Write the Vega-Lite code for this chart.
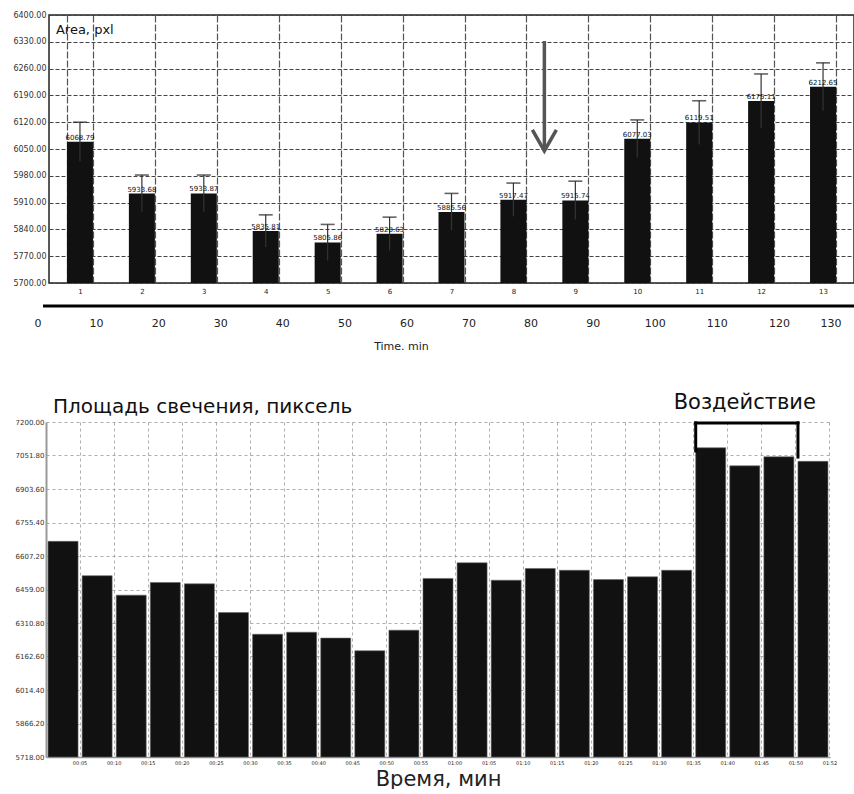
{
  "$schema": "https://vega.github.io/schema/vega-lite/v6.json",
  "padding": {"left": 12, "top": 10, "right": 0, "bottom": 0},
  "bounds": "flush",
  "spacing": 139,
  "config": {
    "font": "DejaVu Sans",
    "axis": {"labelColor": "#222", "titleColor": "#222", "labelOverlap": false}
  },
  "datasets": {
    "area": [
      {"cat": "1", "value": 6068.79, "lo": 6018, "hi": 6120},
      {"cat": "2", "value": 5933.68, "lo": 5886, "hi": 5982},
      {"cat": "3", "value": 5933.87, "lo": 5886, "hi": 5982},
      {"cat": "4", "value": 5835.81, "lo": 5794, "hi": 5878},
      {"cat": "5", "value": 5805.86, "lo": 5759, "hi": 5853},
      {"cat": "6", "value": 5828.63, "lo": 5785, "hi": 5872},
      {"cat": "7", "value": 5885.56, "lo": 5838, "hi": 5934},
      {"cat": "8", "value": 5917.47, "lo": 5874, "hi": 5961},
      {"cat": "9", "value": 5915.74, "lo": 5866, "hi": 5966},
      {"cat": "10", "value": 6077.03, "lo": 6028, "hi": 6126},
      {"cat": "11", "value": 6119.51, "lo": 6062, "hi": 6176},
      {"cat": "12", "value": 6175.11, "lo": 6104, "hi": 6246},
      {"cat": "13", "value": 6212.65, "lo": 6150, "hi": 6275}
    ],
    "glow": [
      {"t": "00:05", "v": 6672},
      {"t": "00:10", "v": 6520},
      {"t": "00:15", "v": 6434},
      {"t": "00:20", "v": 6490},
      {"t": "00:25", "v": 6484},
      {"t": "00:30", "v": 6357},
      {"t": "00:35", "v": 6261},
      {"t": "00:40", "v": 6270},
      {"t": "00:45", "v": 6244},
      {"t": "00:50", "v": 6188},
      {"t": "00:55", "v": 6279},
      {"t": "01:00", "v": 6508},
      {"t": "01:05", "v": 6577},
      {"t": "01:10", "v": 6500},
      {"t": "01:15", "v": 6552},
      {"t": "01:20", "v": 6544},
      {"t": "01:25", "v": 6503},
      {"t": "01:30", "v": 6515},
      {"t": "01:35", "v": 6544},
      {"t": "01:40", "v": 7086},
      {"t": "01:45", "v": 7006},
      {"t": "01:50", "v": 7046},
      {"t": "01:52", "v": 7026}
    ]
  },
  "vconcat": [
    {
      "width": 805,
      "height": 268,
      "view": {"stroke": "#222", "strokeWidth": 1.5},
      "resolve": {"scale": {"x": "independent"}},
      "layer": [
        {
          "data": {"name": "area"},
          "encoding": {
            "x": {
              "field": "cat", "type": "ordinal", "title": null,
              "scale": {"domain": ["1","2","3","4","5","6","7","8","9","10","11","12","13"], "paddingInner": 0.58, "paddingOuter": 0.29},
              "axis": {"orient": "bottom", "labelAngle": 0, "ticks": false, "domain": false, "labelFontSize": 7, "labelPadding": 4, "grid": true, "tickBand": "extent", "gridColor": "#555", "gridDash": [7, 2], "gridWidth": 1.2}
            }
          },
          "layer": [
            {
              "mark": {"type": "bar", "color": "#111"},
              "encoding": {
                "y": {"field": "value", "type": "quantitative", "title": null,
                  "scale": {"domain": [5700, 6400], "zero": false, "nice": false},
                  "axis": {"values": [5700, 5770, 5840, 5910, 5980, 6050, 6120, 6190, 6260, 6330, 6400], "tickCount": 30, "format": ".2f", "labelFontSize": 8, "labelColor": "#333", "ticks": false, "domain": false, "labelPadding": 3, "grid": true, "gridDash": [4, 2], "gridColor": "#444", "gridWidth": 1}
                },
                "y2": {"datum": 5700}
              }
            },
            {
              "mark": {"type": "rule", "color": "#333", "strokeWidth": 1.2},
              "encoding": {"y": {"field": "lo", "type": "quantitative", "title": null}, "y2": {"field": "hi"}}
            },
            {
              "mark": {"type": "tick", "color": "#222", "size": 14, "thickness": 1.6},
              "encoding": {"y": {"field": "hi", "type": "quantitative", "title": null}}
            },
            {
              "mark": {"type": "text", "fontSize": 7, "baseline": "bottom", "dy": -1, "color": "#111"},
              "encoding": {
                "y": {"field": "value", "type": "quantitative", "title": null},
                "text": {"field": "value", "type": "quantitative", "format": ".2f"}
              }
            },
            {
              "data": {"values": [{"k": 1}]},
              "mark": {"type": "rule", "color": "#555", "strokeWidth": 3.5},
              "encoding": {
                "x": {"datum": "9", "type": "ordinal", "bandPosition": -0.691},
                "y": {"datum": 6332, "type": "quantitative", "title": null},
                "y2": {"datum": 6046}
              }
            },
            {
              "data": {"values": [{"k": 1}]},
              "mark": {"type": "point", "shape": "M-1,-1.75L0,0L1,-1.75", "filled": false, "color": "#555", "strokeWidth": 3.5, "size": 576, "opacity": 1},
              "encoding": {
                "x": {"datum": "9", "type": "ordinal", "bandPosition": -0.691},
                "y": {"datum": 6045, "type": "quantitative", "title": null}
              }
            },
            {
              "data": {"values": [{"label": "Area, pxl"}]},
              "mark": {"type": "text", "align": "left", "baseline": "middle", "fontSize": 13, "dx": -11, "color": "#111"},
              "encoding": {
                "x": {"datum": "1", "type": "ordinal", "bandPosition": 0},
                "y": {"datum": 6361, "type": "quantitative", "title": null},
                "text": {"field": "label"}
              }
            }
          ]
        },
        {
          "data": {"values": [{"k": 1}]},
          "mark": {"type": "rule", "color": "#000", "strokeWidth": 3},
          "encoding": {
            "x": {
              "datum": 1.45, "type": "quantitative",
              "scale": {"domain": [0, 130], "range": [-15, 792], "nice": false},
              "axis": {"orient": "bottom", "offset": 23, "values": [0, 10, 20, 30, 40, 50, 60, 70, 80, 90, 100, 110, 120, 130], "tickCount": 30, "domain": false, "ticks": false, "grid": false, "labelFontSize": 11, "labelPadding": 11, "title": "Time. min", "titleFontSize": 11, "titleFontWeight": "normal", "titlePadding": 12, "titleX": 352}
            },
            "x2": {"datum": 132.3},
            "y": {"datum": 5640, "type": "quantitative", "title": null}
          }
        }
      ]
    },
    {
      "width": 806,
      "height": 335,
      "data": {"name": "glow"},
      "view": {"stroke": null},
      "encoding": {
        "x": {
          "field": "t", "type": "ordinal",
          "scale": {"domain": ["00:05","00:10","00:15","00:20","00:25","00:30","00:35","00:40","00:45","00:50","00:55","01:00","01:05","01:10","01:15","01:20","01:25","01:30","01:35","01:40","01:45","01:50","01:52"], "range": [-3, 781], "paddingInner": 0.12, "paddingOuter": 0.06},
          "axis": {"title": "Время, мин", "titleFontSize": 21, "titleFontWeight": "normal", "titlePadding": 3, "labelAngle": 0, "labelFontSize": 5, "labelPadding": 3, "labelOffset": 17, "ticks": false, "bandPosition": 1.068, "domainColor": "#999", "domainWidth": 1.5, "grid": true, "gridDash": [3, 3], "gridColor": "#999", "gridWidth": 0.8}
        }
      },
      "layer": [
        {
          "mark": {"type": "bar", "color": "#111", "stroke": "#666", "strokeWidth": 0.6},
          "encoding": {
            "y": {"field": "v", "type": "quantitative", "title": null,
              "scale": {"domain": [5718, 7200], "zero": false, "nice": false},
              "axis": {"values": [5718, 5866.2, 6014.4, 6162.6, 6310.8, 6459, 6607.2, 6755.4, 6903.6, 7051.8, 7200], "tickCount": 30, "format": ".2f", "labelFontSize": 7, "labelColor": "#333", "ticks": false, "domain": true, "domainColor": "#999", "domainWidth": 2, "offset": 3, "labelPadding": 2, "grid": true, "gridDash": [3, 3], "gridColor": "#999", "gridWidth": 0.8}
            },
            "y2": {"datum": 5718}
          }
        },
        {
          "data": {"values": [{"k": 1}]},
          "mark": {"type": "rule", "color": "#000", "strokeWidth": 3, "strokeCap": "square"},
          "encoding": {
            "x": {"datum": "01:40", "type": "ordinal", "bandPosition": 0},
            "y": {"datum": 7072, "type": "quantitative", "title": null},
            "y2": {"datum": 7196}
          }
        },
        {
          "data": {"values": [{"k": 1}]},
          "mark": {"type": "rule", "color": "#000", "strokeWidth": 3, "strokeCap": "square"},
          "encoding": {
            "x": {"datum": "01:52", "type": "ordinal", "bandPosition": 0},
            "y": {"datum": 7045, "type": "quantitative", "title": null},
            "y2": {"datum": 7196}
          }
        },
        {
          "data": {"values": [{"k": 1}]},
          "mark": {"type": "rule", "color": "#000", "strokeWidth": 3, "strokeCap": "square"},
          "encoding": {
            "x": {"datum": "01:40", "type": "ordinal", "bandPosition": 0},
            "x2": {"datum": "01:52", "bandPosition": 0},
            "y": {"datum": 7196, "type": "quantitative", "title": null}
          }
        },
        {
          "data": {"values": [{"label": "Воздействие"}]},
          "mark": {"type": "text", "baseline": "bottom", "fontSize": 21, "dy": -9, "color": "#111"},
          "encoding": {
            "x": {"datum": "01:45", "type": "ordinal"},
            "y": {"datum": 7200, "type": "quantitative", "title": null},
            "text": {"field": "label"}
          }
        },
        {
          "data": {"values": [{"label": "Площадь свечения, пиксель"}]},
          "mark": {"type": "text", "align": "left", "baseline": "bottom", "fontSize": 20, "dx": 5, "dy": -5, "color": "#111"},
          "encoding": {
            "x": {"datum": "00:05", "type": "ordinal", "bandPosition": 0},
            "y": {"datum": 7200, "type": "quantitative", "title": null},
            "text": {"field": "label"}
          }
        }
      ]
    }
  ]
}
